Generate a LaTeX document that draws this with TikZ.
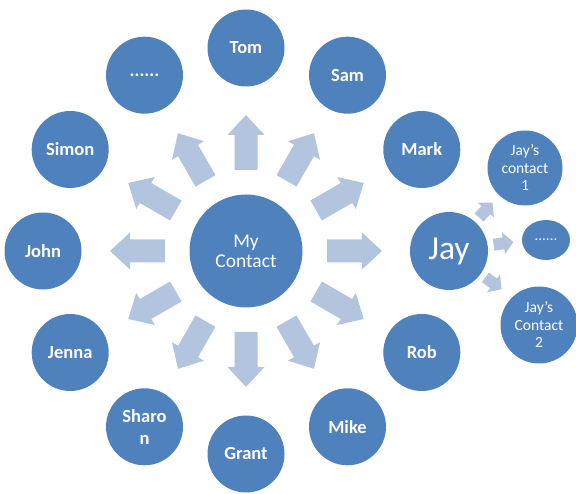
\documentclass[tikz,border=0pt]{standalone}
\usepackage{fontspec}
\setmainfont{Carlito}
\usetikzlibrary{calc,shapes.geometric}
\definecolor{cblue}{HTML}{4F81BD}
\definecolor{cpale}{HTML}{B3C4DF}
\begin{document}
\begin{tikzpicture}[x=1pt,y=1pt,
  bubble/.style={circle, fill=cblue, text=white, minimum size=77pt, inner sep=0pt,
    align=center, font=\fontsize{18.5}{22}\selectfont\bfseries},
  hub/.style={bubble, minimum size=113pt, font=\fontsize{19.5}{20}\selectfont},
  small/.style={bubble, minimum size=75pt, font=\fontsize{15.5}{17.5}\selectfont},
  blockarrow/.style={fill=cpale}]
\useasboundingbox (0,0) rectangle (576,494);

% central contact
\node[hub] (me) at (246,243) {My\\Contact};

% ring of contacts
\foreach \ang/\nm/\txt in {90/tom/Tom, 60/sam/Sam, 30/mark/Mark, -30/rob/Rob,
    -60/mike/Mike, -90/grant/Grant, -120/sharon/{Sharo\\n}, -150/jenna/Jenna,
    180/john/John, 150/simon/Simon, 120/more/{......}}
  \node[bubble] (\nm) at ($(me.center)+(\ang:203)$) {\txt};
\node[bubble, minimum size=78pt, font=\fontsize{33.5}{36}\selectfont] (jay) at ($(me.center)+(0:203)$) {Jay};

% block arrows from the hub
\foreach \ang in {0,30,...,330}
  \fill[blockarrow, shift={(me.center)}, rotate=\ang]
    (81,-11.5) -- (116,-11.5) -- (116,-18.5) -- (136,0) -- (116,18.5)
    -- (116,11.5) -- (81,11.5) -- cycle;

% Jay's own contacts
\node[small] (jc1) at (525,326) {Jay’s\\contact\\1};
\node[ellipse, fill=cblue, text=white, minimum width=48pt, minimum height=40pt,
  inner sep=0pt, font=\fontsize{15}{17}\selectfont] (jmore) at (546,254) {......};
\node[small, minimum size=77pt] (jc2) at (539,169) {Jay’s\\Contact\\2};

% small arrows out of Jay
\foreach \ang in {48,8,-36}
  \fill[blockarrow, shift={(jay.center)}, rotate=\ang]
    (45,-6) -- (55,-6) -- (55,-11) -- (65,0) -- (55,11) -- (55,6) -- (45,6) -- cycle;
\end{tikzpicture}
\end{document}
